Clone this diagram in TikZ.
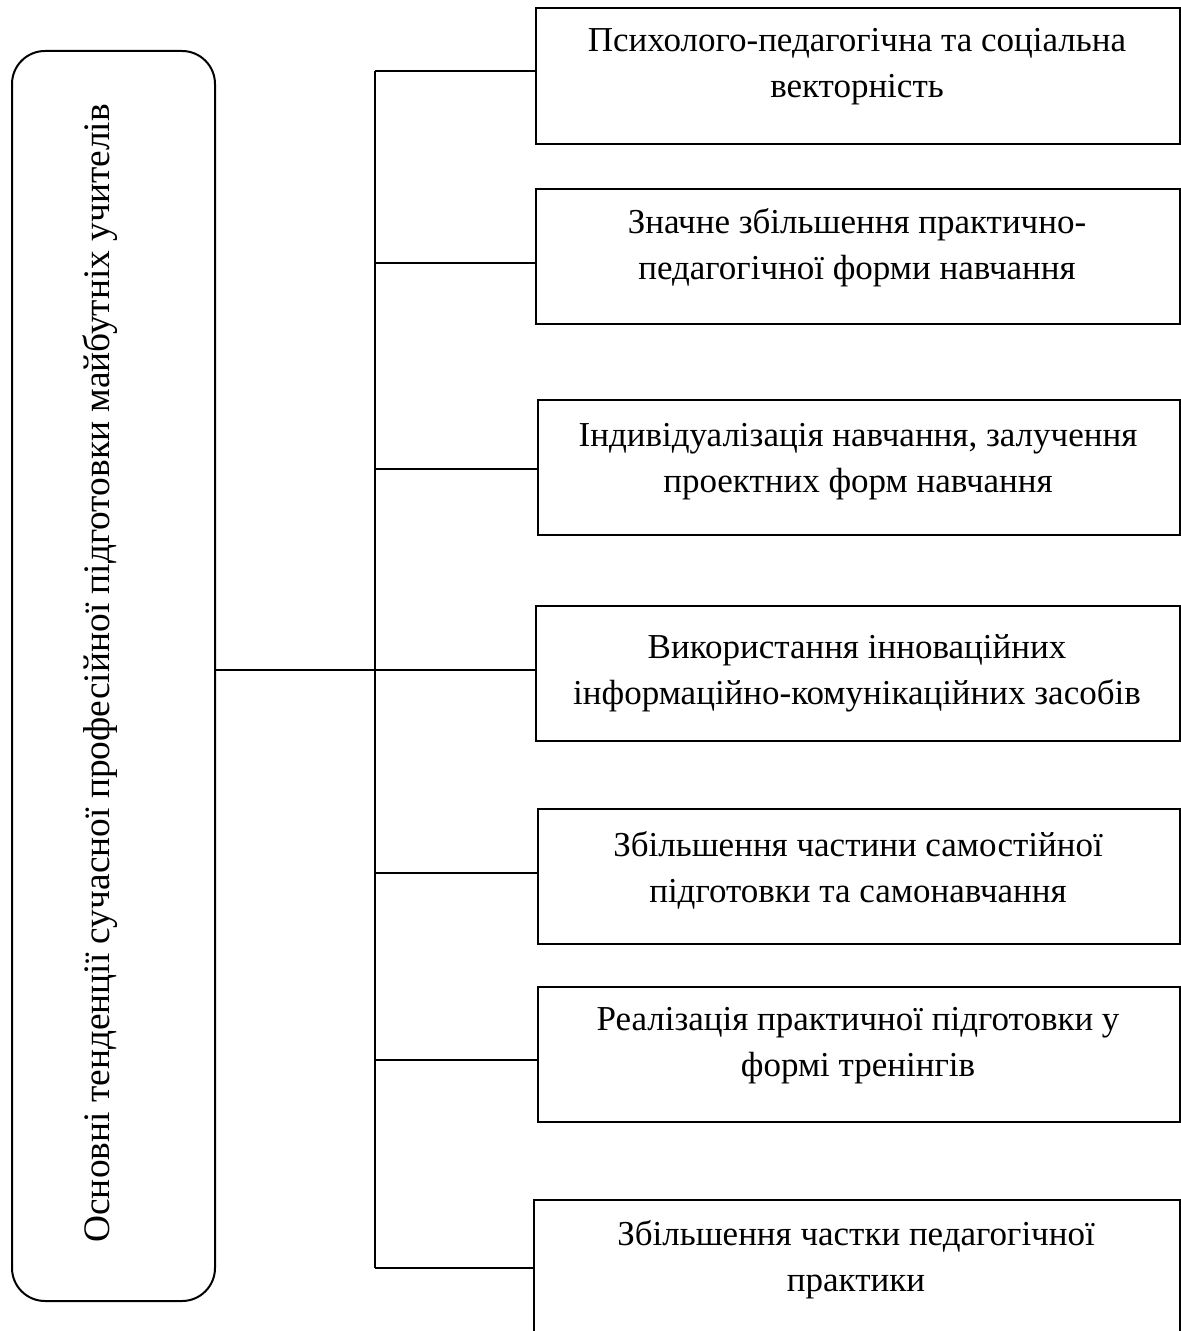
\documentclass[tikz,border=0pt]{standalone}
\usepackage{fontspec}
\setmainfont{Liberation Serif}
\begin{document}
\begin{tikzpicture}[x=0.5pt,y=-0.5pt,
  frame/.style={draw, line width=1pt, inner sep=0pt, anchor=north west},
  lbl/.style={font=\fontsize{17.5}{23}\selectfont, align=center, inner sep=0pt, anchor=north},
  link/.style={line width=1pt}]
\clip (0,0) rectangle (1181,1331);

% left rounded frame with the rotated title
\node[frame, rounded corners=16.5pt, minimum width=101.5pt, minimum height=625pt] (main) at (11,50) {};
\node[font=\fontsize{18.7}{23}\selectfont, inner sep=0pt, anchor=base west, rotate=90] (title) at (109,1243)
  {Основні тенденції сучасної професійної підготовки майбутніх учителів};

% right-hand boxes
\node[frame, minimum width=322pt, minimum height=68pt]   (b1) at (535,7) {};
\node[frame, minimum width=322pt, minimum height=67.5pt] (b2) at (535,188) {};
\node[frame, minimum width=321pt, minimum height=67.5pt] (b3) at (537,399) {};
\node[frame, minimum width=322pt, minimum height=67.5pt] (b4) at (535,605) {};
\node[frame, minimum width=321pt, minimum height=67.5pt] (b5) at (537,808) {};
\node[frame, minimum width=321pt, minimum height=67.5pt] (b6) at (537,986) {};
\node[frame, minimum width=323pt, minimum height=68pt]   (b7) at (533,1199) {};

% box texts
\node[lbl] (l1) at (857,18.8)   {\strut Психолого-педагогічна та соціальна\\векторність};
\node[lbl] (l2) at (857,200.8)  {\strut Значне збільшення практично-\\педагогічної форми навчання};
\node[lbl] (l3) at (858,413.8)  {\strut Індивідуалізація навчання, залучення\\проектних форм навчання};
\node[lbl] (l4) at (857,625.8)  {\strut Використання інноваційних\\інформаційно-комунікаційних засобів};
\node[lbl] (l5) at (858,823.8)  {\strut Збільшення частини самостійної\\підготовки та самонавчання};
\node[lbl] (l6) at (858,997.8)  {\strut Реалізація практичної підготовки у\\формі тренінгів};
\node[lbl] (l7) at (856,1212.8) {\strut Збільшення частки педагогічної\\практики};

% trunk and branches
\coordinate (t1) at (375,71);
\coordinate (t2) at (375,263);
\coordinate (t3) at (375,469);
\coordinate (t4) at (375,670);
\coordinate (t5) at (375,873);
\coordinate (t6) at (375,1060);
\coordinate (t7) at (375,1268);
\draw[link] (t1) -- (t7);
\foreach \i in {1,...,7} \draw[link] (t\i) -- (t\i -| b\i.west);
\draw[link] (t4 -| main.east) -- (t4);
\end{tikzpicture}
\end{document}
